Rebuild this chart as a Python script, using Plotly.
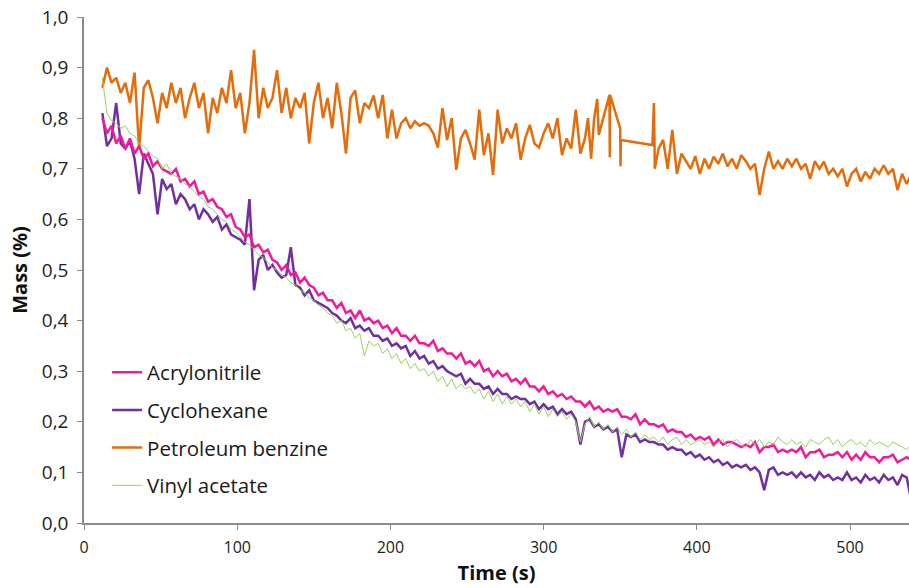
import plotly.graph_objects as go

# ---- data ----
time_s = [12, 15, 18, 21, 24, 27, 30, 33, 36, 39,
          42, 45, 48, 51, 54, 57, 60, 63, 66, 69,
          72, 75, 78, 81, 84, 87, 90, 93, 96, 99,
          102, 105, 108, 111, 114, 117, 120, 123, 126, 129,
          132, 135, 138, 141, 144, 147, 150, 153, 156, 159,
          162, 165, 168, 171, 174, 177, 180, 183, 186, 189,
          192, 195, 198, 201, 204, 207, 210, 213, 216, 219,
          222, 225, 228, 231, 234, 237, 240, 243, 246, 249,
          252, 255, 258, 261, 264, 267, 270, 273, 276, 279,
          282, 285, 288, 291, 294, 297, 300, 303, 306, 309,
          312, 315, 318, 321, 324, 327, 330, 333, 336, 339,
          342, 345, 348, 351, 354, 357, 360, 363, 366, 369,
          372, 375, 378, 381, 384, 387, 390, 393, 396, 399,
          402, 405, 408, 411, 414, 417, 420, 423, 426, 429,
          432, 435, 438, 441, 444, 447, 450, 453, 456, 459,
          462, 465, 468, 471, 474, 477, 480, 483, 486, 489,
          492, 495, 498, 501, 504, 507, 510, 513, 516, 519,
          522, 525, 528, 531, 534, 537, 540]

acrylonitrile = [0.80, 0.77, 0.785, 0.75, 0.765, 0.74, 0.76, 0.73, 0.745, 0.72,
                 0.73, 0.705, 0.715, 0.70, 0.695, 0.69, 0.70, 0.675, 0.68, 0.665,
                 0.675, 0.65, 0.655, 0.635, 0.64, 0.625, 0.62, 0.605, 0.61, 0.585,
                 0.58, 0.565, 0.57, 0.545, 0.55, 0.535, 0.54, 0.52, 0.515, 0.50,
                 0.51, 0.49, 0.495, 0.475, 0.485, 0.47, 0.465, 0.45, 0.455, 0.44,
                 0.44, 0.425, 0.435, 0.415, 0.42, 0.405, 0.42, 0.40, 0.405, 0.395,
                 0.40, 0.385, 0.39, 0.375, 0.385, 0.37, 0.37, 0.36, 0.37, 0.355,
                 0.355, 0.35, 0.36, 0.34, 0.345, 0.335, 0.335, 0.325, 0.335, 0.315,
                 0.32, 0.31, 0.32, 0.30, 0.305, 0.29, 0.30, 0.29, 0.295, 0.28,
                 0.285, 0.275, 0.285, 0.27, 0.27, 0.26, 0.27, 0.255, 0.26, 0.25,
                 0.255, 0.245, 0.25, 0.24, 0.24, 0.23, 0.24, 0.225, 0.23, 0.22,
                 0.225, 0.22, 0.225, 0.21, 0.21, 0.205, 0.215, 0.195, 0.205, 0.195,
                 0.195, 0.19, 0.195, 0.18, 0.185, 0.18, 0.18, 0.17, 0.175, 0.165,
                 0.17, 0.165, 0.17, 0.155, 0.165, 0.155, 0.16, 0.16, 0.155, 0.15,
                 0.155, 0.15, 0.16, 0.14, 0.15, 0.15, 0.155, 0.14, 0.145, 0.14,
                 0.145, 0.14, 0.15, 0.13, 0.14, 0.14, 0.145, 0.13, 0.135, 0.135,
                 0.14, 0.13, 0.14, 0.125, 0.135, 0.125, 0.14, 0.13, 0.13, 0.12,
                 0.13, 0.13, 0.135, 0.12, 0.125, 0.13, 0.125]

cyclohexane = [0.81, 0.745, 0.76, 0.83, 0.75, 0.74, 0.755, 0.72, 0.65, 0.73,
               0.71, 0.69, 0.61, 0.68, 0.66, 0.67, 0.63, 0.65, 0.64, 0.62,
               0.63, 0.60, 0.62, 0.61, 0.595, 0.605, 0.58, 0.59, 0.57, 0.565,
               0.56, 0.55, 0.64, 0.46, 0.52, 0.53, 0.50, 0.51, 0.495, 0.485,
               0.49, 0.545, 0.47, 0.465, 0.45, 0.46, 0.44, 0.435, 0.43, 0.425,
               0.415, 0.41, 0.40, 0.395, 0.405, 0.385, 0.39, 0.38, 0.385, 0.37,
               0.37, 0.36, 0.365, 0.35, 0.355, 0.345, 0.35, 0.33, 0.34, 0.325,
               0.33, 0.315, 0.32, 0.305, 0.31, 0.30, 0.295, 0.29, 0.295, 0.275,
               0.285, 0.275, 0.275, 0.265, 0.27, 0.255, 0.265, 0.255, 0.255, 0.245,
               0.25, 0.245, 0.245, 0.235, 0.24, 0.225, 0.235, 0.225, 0.23, 0.215,
               0.225, 0.215, 0.22, 0.205, 0.155, 0.20, 0.205, 0.19, 0.195, 0.185,
               0.19, 0.18, 0.185, 0.13, 0.175, 0.17, 0.175, 0.16, 0.165, 0.16,
               0.16, 0.155, 0.155, 0.145, 0.15, 0.145, 0.145, 0.135, 0.14, 0.13,
               0.135, 0.125, 0.13, 0.12, 0.125, 0.115, 0.12, 0.11, 0.115, 0.11,
               0.115, 0.105, 0.11, 0.10, 0.065, 0.105, 0.11, 0.095, 0.10, 0.095,
               0.10, 0.09, 0.10, 0.09, 0.095, 0.085, 0.10, 0.09, 0.095, 0.085,
               0.09, 0.085, 0.10, 0.085, 0.09, 0.08, 0.095, 0.085, 0.09, 0.08,
               0.095, 0.085, 0.09, 0.075, 0.095, 0.09, 0.045]

vinyl_acetate = [0.88, 0.81, 0.795, 0.79, 0.78, 0.785, 0.77, 0.765, 0.75, 0.745,
                 0.735, 0.725, 0.72, 0.70, 0.71, 0.69, 0.685, 0.68, 0.67, 0.665,
                 0.655, 0.645, 0.64, 0.625, 0.62, 0.61, 0.60, 0.595, 0.58, 0.575,
                 0.565, 0.555, 0.55, 0.54, 0.53, 0.525, 0.515, 0.505, 0.50, 0.49,
                 0.485, 0.475, 0.47, 0.46, 0.455, 0.445, 0.44, 0.43, 0.425, 0.415,
                 0.41, 0.395, 0.40, 0.38, 0.385, 0.365, 0.375, 0.33, 0.36, 0.35,
                 0.355, 0.335, 0.345, 0.325, 0.335, 0.315, 0.325, 0.305, 0.315, 0.30,
                 0.305, 0.29, 0.30, 0.28, 0.29, 0.27, 0.285, 0.265, 0.275, 0.265,
                 0.27, 0.255, 0.265, 0.245, 0.26, 0.24, 0.255, 0.235, 0.25, 0.235,
                 0.245, 0.23, 0.24, 0.22, 0.235, 0.215, 0.23, 0.21, 0.225, 0.21,
                 0.22, 0.205, 0.215, 0.20, 0.16, 0.195, 0.21, 0.19, 0.20, 0.185,
                 0.195, 0.18, 0.19, 0.175, 0.185, 0.17, 0.18, 0.165, 0.175, 0.165,
                 0.17, 0.16, 0.17, 0.155, 0.165, 0.17, 0.155, 0.165, 0.155, 0.16,
                 0.165, 0.155, 0.16, 0.15, 0.16, 0.165, 0.15, 0.16, 0.165, 0.155,
                 0.15, 0.165, 0.155, 0.165, 0.15, 0.16, 0.155, 0.17, 0.16, 0.155,
                 0.165, 0.155, 0.16, 0.15, 0.165, 0.16, 0.155, 0.165, 0.17, 0.155,
                 0.165, 0.15, 0.16, 0.165, 0.155, 0.16, 0.15, 0.165, 0.155, 0.16,
                 0.155, 0.15, 0.16, 0.155, 0.15, 0.145, 0.155]

benzine_time = [12, 15, 18, 21, 24, 27, 30, 33, 36, 39,
                42, 45, 48, 51, 54, 57, 60, 63, 66, 69,
                72, 75, 78, 81, 84, 87, 90, 93, 96, 99,
                102, 105, 108, 111, 114, 117, 120, 123, 126, 129,
                132, 135, 138, 141, 144, 147, 150, 153, 156, 159,
                162, 165, 168, 171, 174, 177, 180, 183, 186, 189,
                192, 195, 198, 201, 204, 207, 210, 213, 216, 219,
                222, 225, 228, 231, 234, 237, 240, 243, 246, 249,
                252, 255, 258, 261, 264, 267, 270, 273, 276, 279,
                282, 285, 288, 291, 294, 297, 300, 303, 306, 309,
                312, 315, 318, 321, 324, 327,
                329, 331, 333, 335, 336, 343, 343.2, 343.4, 350, 350.2,
                350.4, 371, 372, 372.6,
                375, 378, 381, 384, 387, 390, 393, 396, 399, 402,
                405, 408, 411, 414, 417, 420, 423, 426, 429, 432,
                435, 438, 441, 444, 447, 450, 453, 456, 459, 462,
                465, 468, 471, 474, 477, 480, 483, 486, 489, 492,
                495, 498, 501, 504, 507, 510, 513, 516, 519, 522,
                525, 528, 531, 534, 537, 540]

petroleum_benzine = [0.86, 0.90, 0.87, 0.88, 0.85, 0.87, 0.83, 0.89, 0.74, 0.86,
                     0.875, 0.84, 0.79, 0.85, 0.82, 0.87, 0.83, 0.86, 0.80, 0.84,
                     0.87, 0.82, 0.85, 0.77, 0.84, 0.81, 0.86, 0.83, 0.895, 0.82,
                     0.85, 0.77, 0.83, 0.935, 0.80, 0.86, 0.82, 0.84, 0.895, 0.81,
                     0.86, 0.80, 0.84, 0.82, 0.85, 0.75, 0.83, 0.87, 0.80, 0.84,
                     0.78, 0.87, 0.81, 0.73, 0.84, 0.855, 0.79, 0.83, 0.82, 0.845,
                     0.80, 0.846, 0.76, 0.817, 0.76, 0.79, 0.80, 0.78, 0.794, 0.785,
                     0.79, 0.785, 0.77, 0.742, 0.82, 0.757, 0.80, 0.698, 0.76, 0.777,
                     0.75, 0.718, 0.817, 0.727, 0.77, 0.688, 0.817, 0.75, 0.78, 0.76,
                     0.79, 0.718, 0.76, 0.787, 0.75, 0.742, 0.77, 0.79, 0.76, 0.80,
                     0.727, 0.76, 0.74, 0.817, 0.73, 0.76,
                     0.80, 0.72, 0.80, 0.838, 0.767, 0.846, 0.723, 0.846, 0.78, 0.705,
                     0.757, 0.747, 0.83, 0.70,
                     0.74, 0.757, 0.70, 0.777, 0.69, 0.73, 0.715, 0.70, 0.725, 0.69,
                     0.72, 0.70, 0.724, 0.71, 0.73, 0.705, 0.72, 0.70, 0.727, 0.715,
                     0.70, 0.71, 0.648, 0.70, 0.734, 0.70, 0.715, 0.70, 0.72, 0.705,
                     0.72, 0.70, 0.71, 0.68, 0.715, 0.70, 0.714, 0.69, 0.70, 0.685,
                     0.70, 0.665, 0.69, 0.70, 0.675, 0.694, 0.68, 0.70, 0.69, 0.707,
                     0.69, 0.70, 0.658, 0.69, 0.67, 0.69]

x_ticks = [0, 100, 200, 300, 400, 500]
y_ticks = [0.0, 0.1, 0.2, 0.3, 0.4, 0.5, 0.6, 0.7, 0.8, 0.9, 1.0]

series = [
    ("Acrylonitrile", time_s, acrylonitrile, "#F21A9A", 2.5),
    ("Cyclohexane", time_s, cyclohexane, "#7030A0", 2.5),
    ("Petroleum benzine", benzine_time, petroleum_benzine, "#E46C0A", 2.5),
    ("Vinyl acetate", time_s, vinyl_acetate, "#9BD064", 1.0),
]

fig = go.Figure()
draw_order = [2, 1, 0, 3]
for i in draw_order:
    name, t, v, c, w = series[i]
    fig.add_trace(go.Scatter(
        x=t, y=v, mode="lines", name=name,
        line=dict(color=c, width=w),
        legendgroup=name, legendrank=i + 1,
    ))

axis_col = "#8C8C8C"
main_font = "Open Sans, DejaVu Sans, sans-serif"
fig.update_layout(
    width=909, height=588,
    margin=dict(l=84, r=0, t=17, b=65),
    paper_bgcolor="white", plot_bgcolor="white",
    separators=", ",
    showlegend=True,
    legend=dict(
        x=0.028, y=0.337, xanchor="left", yanchor="top",
        font=dict(family=main_font, size=20.5, color="#1a1a1a"),
        bgcolor="rgba(0,0,0,0)", traceorder="grouped", tracegroupgap=8,
    ),
    xaxis=dict(
        range=[0, 538.5], tickvals=x_ticks, ticks="outside", ticklen=5,
        tickcolor=axis_col, showline=True, linecolor=axis_col, linewidth=1.5,
        showgrid=False, zeroline=False, ticklabelstandoff=4,
        tickfont=dict(family=main_font, size=16, color="#222222"),
        title=dict(text="<b>Time (s)</b>", standoff=9,
                   font=dict(family=main_font, size=20, color="#111111")),
    ),
    yaxis=dict(
        range=[0, 1.0], tickvals=y_ticks, tickformat=".1f", ticks="outside", ticklen=5,
        tickcolor=axis_col, showline=True, linecolor=axis_col, linewidth=1.5,
        showgrid=False, zeroline=False, ticklabelstandoff=5,
        tickfont=dict(family=main_font, size=19, color="#222222"),
        title=dict(text="<b>Mass (%)</b>", standoff=9,
                   font=dict(family=main_font, size=20, color="#111111")),
    ),
)

fig.write_html("out.html")
